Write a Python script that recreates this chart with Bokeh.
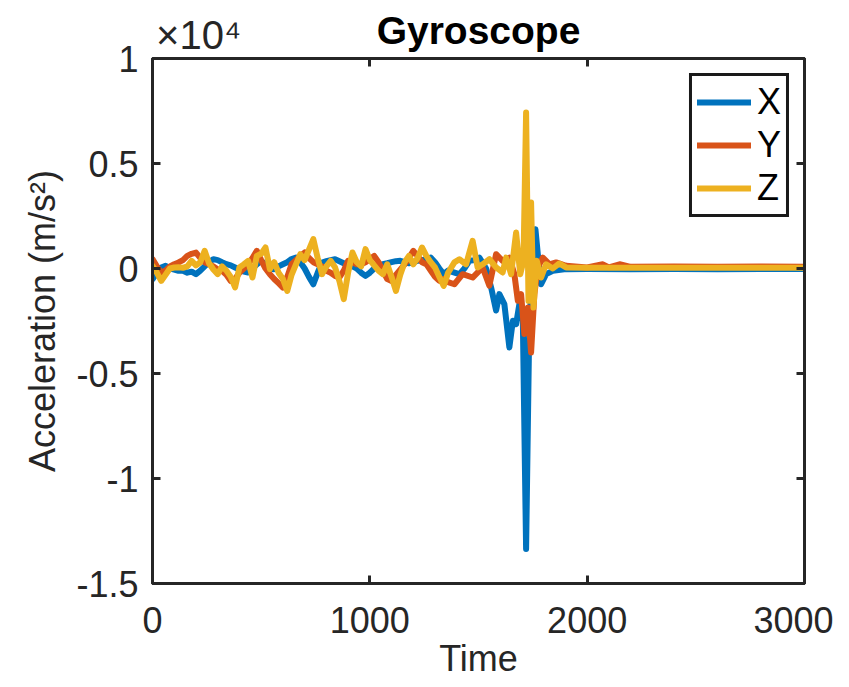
from bokeh.plotting import figure
from bokeh.models import (FixedTicker, CustomJSTickFormatter, LinearAxis, Title,
                          Range1d, Legend, LegendItem)
from bokeh.embed import file_html
from bokeh.resources import INLINE

# ---------------- data ----------------
time_noise = [0, 20, 40, 60, 80, 100, 120, 140, 160, 180, 200, 220, 240, 260, 280,
              300, 320, 340, 360, 380, 400, 420, 440, 460, 480, 500, 520, 540, 560,
              580, 600, 620, 640, 660, 680, 700, 720, 740, 760, 780, 800, 820, 840,
              860, 880, 900, 920, 940, 960, 980, 1000, 1020, 1040, 1060, 1080, 1100,
              1120, 1140, 1160, 1180, 1200, 1220, 1240, 1260, 1280, 1300, 1320, 1340, 1360]

x_noise = [-510, -200, 50, 127, 0, -50, -111, -111, -200, -150, -270, -100, 100, 300, 445,
           400, 300, 207, 150, 50, -50, -150, -190, 0, 200, 365, 200, 0, -32,
           100, 200, 300, 450, 520, 300, 0, -400, -750, -200, 286, 350, 400, 445,
           350, 250, 207, 100, 0, -200, -350, -200, 0, 100, 207, 250, 300,
           350, 365, 300, 250, 300, 365, 400, 450, 520, 300, 0, -270, -100]
y_noise = [445, 100, -190, -100, 100, 200, 286, 400, 600, 700, 760, 500, 300, 207, 100,
           -50, -111, -300, -590, -500, -200, 0, 207, 500, 840, 400, 0, -270, -500,
           -700, -906, -400, 207, 400, 600, 760, 500, 300, 207, 100, -111, -200, -350,
           -430, -100, 365, 300, 200, 207, 300, 450, 600, 300, -100, -500, -590,
           -300, -50, 200, 500, 840, 600, 300, 207, -100, -400, -590, -500, -650]
z_noise = [130, -200, -590, -300, 0, 48, 60, 30, 100, 365, 150, 300, 840, 250, -50,
           -270, 100, -100, -400, -900, 48, 200, 365, -430, 600, 700, 1000, -32, 300,
           -200, -500, -1065, -300, 200, 680, 400, 900, 1400, 500, -270, 100, 365, 50,
           -600, -1460, -200, 760, 300, 100, 920, 400, 150, -100, -270, 200, -400,
           -1065, -300, 300, 600, 200, 500, 1000, 600, 300, 48, -400, -830, -200]

x_event_time = [1412, 1435, 1458, 1481, 1504, 1535, 1558, 1581, 1596, 1619, 1642, 1658,
                1673, 1688, 1704, 1719, 1734, 1750, 1762, 1773, 1788, 1811, 1842, 1903,
                2000, 2200, 2400, 2600, 2800, 3000]
x_event = [-270, 0, 365, 400, 520, 0, -900, -2000, -1220, -1700, -3760, -2490,
           -2650, -1700, -2490, -13360, -2490, -270, 1870, 680, -750, -270, -110, -30,
           -20, -30, -20, -30, -20, -20]

y_event_time = [1389, 1427, 1473, 1519, 1550, 1581, 1611, 1642, 1665, 1681, 1696, 1711,
                1727, 1742, 1757, 1773, 1796, 1827, 1857, 1903, 2000, 2072, 2100, 2149,
                2200, 2400, 2600, 2800, 3000]
y_event = [-750, -270, -430, 50, -820, 680, 365, 520, -270, -1540, -1220, -3120,
           -1860, -4000, -1220, 50, 520, 200, 290, 130, 50, 200, 50, 200,
           80, 100, 80, 100, 80]

z_event_time = [1389, 1412, 1443, 1473, 1496, 1519, 1550, 1581, 1611, 1627, 1650, 1673,
                1692, 1707, 1719, 1730, 1742, 1753, 1768, 1788, 1811, 1842, 1872, 1903,
                2000, 2500, 3000]
z_event = [290, 440, 200, 1320, 50, 200, 440, 50, -190, 520, -270, 1710,
           -270, 365, 7430, -1540, 3140, -1860, 365, -430, 200, 0, 240, 50,
           30, 30, 30]

series_names = ["X", "Y", "Z"]
series_colors = ["#0072BD", "#D95319", "#EDB120"]
x_ticks = [0, 1000, 2000, 3000]
y_ticks = [-15000, -10000, -5000, 0, 5000, 10000]
exponent_text = "×10⁴"

# ---------------- figure ----------------
FONT = "Liberation Sans"
DARK = "#262626"

p = figure(frame_width=652, frame_height=525, output_backend="svg", toolbar_location=None,
           title=None,
           x_range=Range1d(0, 3000), y_range=Range1d(-15000, 10000),
           min_border_left=152, min_border_right=29, min_border_top=58, min_border_bottom=60,
           background_fill_color="white", border_fill_color="white")

p.xgrid.visible = False
p.ygrid.visible = False
p.outline_line_color = DARK
p.outline_line_width = 3
p.outline_line_alpha = 1


def style_axis(ax, show_labels=True):
    ax.axis_line_width = 3
    ax.axis_line_color = DARK
    ax.major_tick_in = 8
    ax.major_tick_out = 0
    ax.major_tick_line_width = 3
    ax.major_tick_line_color = DARK
    ax.minor_tick_line_color = None
    ax.major_label_text_font = FONT
    ax.major_label_text_color = DARK
    ax.major_label_text_font_size = "36px" if show_labels else "0px"
    ax.axis_label_text_font = FONT
    ax.axis_label_text_font_size = "36px"
    ax.axis_label_text_font_style = "normal"
    ax.axis_label_text_color = DARK


p.xaxis.ticker = FixedTicker(ticks=x_ticks)
p.yaxis.ticker = FixedTicker(ticks=y_ticks)
p.yaxis.formatter = CustomJSTickFormatter(code="return (tick/10000).toString();")
p.xaxis.axis_label = "Time"
p.yaxis.axis_label = "Acceleration (m/s²)"
style_axis(p.xaxis[0])
style_axis(p.yaxis[0])
p.xaxis.major_label_standoff = 23
p.xaxis.axis_label_standoff = 2
p.yaxis.major_label_standoff = 14
p.yaxis.axis_label_standoff = 10

# right box axis: ticks only
ax_r = LinearAxis(ticker=FixedTicker(ticks=y_ticks),
                  formatter=CustomJSTickFormatter(code="return '';"))
style_axis(ax_r, False)
ax_r.major_label_standoff = 0
p.add_layout(ax_r, "right")

# top box axis: box ticks drawn as minor ticks, one major label carrying the exponent
ax_t = LinearAxis(ticker=FixedTicker(ticks=[212], minor_ticks=x_ticks),
                  formatter=CustomJSTickFormatter(code="return '%s';" % exponent_text))
style_axis(ax_t, True)
ax_t.major_label_text_font_size = "40px"
ax_t.major_tick_line_color = None
ax_t.minor_tick_line_color = DARK
ax_t.minor_tick_line_width = 3
ax_t.minor_tick_in = 8
ax_t.minor_tick_out = 0
ax_t.major_label_standoff = 2
p.add_layout(ax_t, "above")

title = Title(text="Gyroscope", align="center", text_font=FONT, text_font_size="39px",
              text_font_style="bold", text_color="black", standoff=-84)
p.add_layout(title, "above")

# ---------------- lines ----------------
times = [time_noise + x_event_time, time_noise + y_event_time, time_noise + z_event_time]
values = [x_noise + x_event, y_noise + y_event, z_noise + z_event]
renderers = []
for t, v, c in zip(times, values, series_colors):
    r = p.line(t, v, line_color=c, line_width=6, line_join="round", line_cap="round")
    renderers.append(r)

legend = Legend(items=[LegendItem(label=n, renderers=[r]) for n, r in zip(series_names, renderers)],
                location="top_right")
legend.label_text_font = FONT
legend.label_text_font_size = "36px"
legend.label_text_color = "black"
legend.glyph_width = 54
legend.glyph_height = 36
legend.label_height = 36
legend.label_standoff = 6
legend.spacing = 1
legend.padding = 5
legend.margin = 15
legend.border_line_color = "#1a1a1a"
legend.border_line_alpha = 1
legend.border_line_width = 3.5
legend.background_fill_alpha = 1
p.add_layout(legend)

open("out.html", "w").write(file_html(p, INLINE))
